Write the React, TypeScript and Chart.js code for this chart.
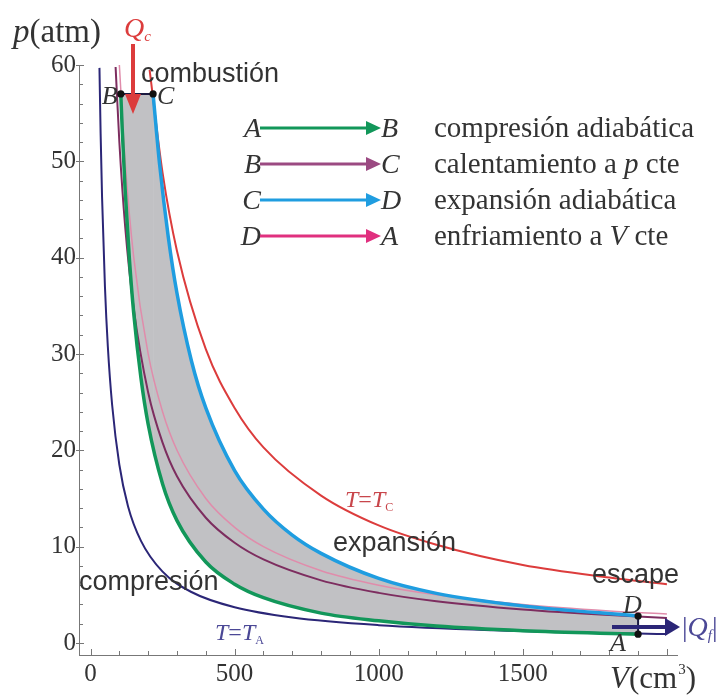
import React, { useEffect, useRef } from 'react';
import { Chart, registerables } from 'chart.js';

Chart.register(...registerables);

// ---- data (V in cm³, p in atm) ----
// adiabatic compression A -> B
const abV = [105, 110, 120, 135, 150, 175, 200, 250, 300, 400, 500, 600, 800, 1000, 1200, 1500, 1900];
const abP = [57.0, 53.3, 47.1, 39.8, 34.2, 27.5, 22.7, 16.5, 12.7, 8.4, 6.1, 4.7, 3.1, 2.3, 1.75, 1.27, 0.91];
// heating at constant p B -> C
const bcV = [105, 217];
const bcP = [57, 57];
// adiabatic expansion C -> D
const cdV = [217, 240, 270, 300, 350, 400, 500, 600, 700, 800, 1000, 1200, 1500, 1900];
const cdP = [57.0, 49.6, 42.1, 36.3, 29.3, 24.4, 17.9, 13.9, 11.2, 9.3, 6.7, 5.15, 3.85, 2.8];
// cooling at constant V D -> A
const daV = [1900, 1900];
const daP = [2.8, 0.91];
// isotherm T = T_C
const tcV = [205, 250, 300, 400, 500, 600, 800, 1000, 1200, 1500, 1800, 2000];
const tcP = [59.5, 48.8, 40.7, 30.5, 24.4, 20.3, 15.3, 12.2, 10.2, 8.1, 6.8, 6.1];
// isotherm T = T_A
const taV = [31, 35, 40, 50, 60, 75, 100, 130, 175, 250, 350, 500, 700, 1000, 1400, 1900, 2000];
const taP = [59.7, 52.9, 46.3, 37.0, 30.8, 24.7, 18.5, 14.2, 10.6, 7.4, 5.29, 3.7, 2.64, 1.85, 1.32, 0.97, 0.93];
// isotherm through D (purple)
const tdV = [87, 100, 120, 150, 200, 250, 300, 400, 500, 600, 800, 1000, 1200, 1500, 1800, 2000];
const tdP = [59.8, 52, 43.3, 34.7, 26, 20.8, 17.3, 13, 10.4, 8.67, 6.5, 5.2, 4.33, 3.47, 2.89, 2.6];
// isotherm through B (light pink)
const tbV = [100, 120, 150, 200, 250, 300, 400, 500, 600, 800, 1000, 1200, 1500, 1800, 2000];
const tbP = [60, 50, 40, 30, 24, 20, 15, 12, 10, 7.5, 6, 5, 4, 3.33, 3];
// state points
const stateNames = ['B', 'C', 'D', 'A'];
const stateV = [105, 217, 1900, 1900];
const stateP = [57, 57, 2.8, 0.91];
// ticks
const xTickLabels = [0, 500, 1000, 1500];
const yTickLabels = [0, 10, 20, 30, 40, 50, 60];
// process legend
const legendFrom = ['A', 'B', 'C', 'D'];
const legendTo = ['B', 'C', 'D', 'A'];
const legendText: string[][] = [
  ['compresión adiabática'],
  ['calentamiento a ', 'p', ' cte'],
  ['expansión adiabática'],
  ['enfriamiento a ', 'V', ' cte'],
];

const SERIF = "'Liberation Serif', 'Times New Roman', serif";
const SANS = "'Liberation Sans', Arial, sans-serif";
const GREEN = '#12975a';
const BLUE = '#1f9de0';
const RED = '#dc3c3c';
const NAVY = '#2b2677';
const PURPLE = '#7d2d5f';
const PINK = '#e08cab';
const FILL = 'rgb(193,193,196)';
const TXT = '#333333';

const pts = (vs: number[], ps: number[]) => vs.map((v, i) => ({ x: v, y: ps[i] }));

type Run = { t: string; font: string; color?: string; dy?: number };
function drawRuns(ctx: CanvasRenderingContext2D, x: number, y: number, runs: Run[]) {
  let cx = x;
  for (const r of runs) {
    ctx.font = r.font;
    if (r.color) ctx.fillStyle = r.color;
    ctx.fillText(r.t, cx, y + (r.dy || 0));
    cx += ctx.measureText(r.t).width;
  }
  return cx;
}

function arrow(ctx: CanvasRenderingContext2D, x1: number, y1: number, x2: number, y2: number, color: string, lw: number, headLen: number, headHalf: number) {
  const a = Math.atan2(y2 - y1, x2 - x1);
  const bx = x2 - headLen * Math.cos(a);
  const by = y2 - headLen * Math.sin(a);
  ctx.strokeStyle = color;
  ctx.lineWidth = lw;
  ctx.lineCap = 'butt';
  ctx.beginPath();
  ctx.moveTo(x1, y1);
  ctx.lineTo(bx + Math.cos(a), by + Math.sin(a));
  ctx.stroke();
  ctx.fillStyle = color;
  ctx.beginPath();
  ctx.moveTo(x2, y2);
  ctx.lineTo(bx - headHalf * Math.sin(a), by + headHalf * Math.cos(a));
  ctx.lineTo(bx + headHalf * Math.sin(a), by - headHalf * Math.cos(a));
  ctx.closePath();
  ctx.fill();
}

const annotations = {
  id: 'annotations',
  afterDraw(chart: any) {
    const ctx: CanvasRenderingContext2D = chart.ctx;
    const xs = chart.scales.x;
    const ys = chart.scales.y;
    const X = (v: number) => xs.getPixelForValue(v);
    const Y = (p: number) => ys.getPixelForValue(p);
    const { left, bottom } = chart.chartArea;
    ctx.save();
    ctx.textAlign = 'left';
    ctx.textBaseline = 'alphabetic';

    // tick marks (inside)
    ctx.strokeStyle = '#777';
    ctx.lineWidth = 1;
    ys.ticks.forEach((t: any) => {
      const y = Math.round(Y(t.value)) + 0.5;
      const major = t.value % 10 === 0;
      ctx.beginPath();
      ctx.moveTo(major ? left - 3 : left, y);
      ctx.lineTo(left + (major ? 5 : 4), y);
      ctx.stroke();
    });
    xs.ticks.forEach((t: any) => {
      const x = Math.round(X(t.value)) + 0.5;
      const major = t.value % 500 === 0;
      ctx.beginPath();
      ctx.moveTo(x, bottom);
      ctx.lineTo(x, bottom - (major ? 6 : 4));
      ctx.stroke();
    });

    // axis titles
    ctx.fillStyle = TXT;
    drawRuns(ctx, 13, 42, [
      { t: 'p', font: `italic 33px ${SERIF}` },
      { t: '(atm)', font: `33px ${SERIF}` },
    ]);
    const vx = drawRuns(ctx, 610, 688, [
      { t: 'V', font: `italic 31px ${SERIF}` },
      { t: '(cm', font: `31px ${SERIF}` },
    ]);
    const vx2 = drawRuns(ctx, vx + 1, 688, [{ t: '3', font: `15px ${SERIF}`, dy: -14 }]);
    drawRuns(ctx, vx2, 688, [{ t: ')', font: `31px ${SERIF}` }]);

    // Q_c arrow
    drawRuns(ctx, 124, 37, [
      { t: 'Q', font: `italic 28px ${SERIF}`, color: RED },
      { t: 'c', font: `italic 15px ${SERIF}`, dy: 4 },
    ]);
    arrow(ctx, 133, 44, 133, 114, RED, 4, 20, 8);

    // |Q_f| arrow
    arrow(ctx, 612, 627, 680, 627, NAVY, 4, 15, 9);
    ctx.fillStyle = '#4b4896';
    drawRuns(ctx, 682, 636, [
      { t: '|', font: `28px ${SERIF}` },
      { t: 'Q', font: `italic 28px ${SERIF}` },
      { t: 'f', font: `italic 15px ${SERIF}`, dy: 4 },
      { t: '|', font: `28px ${SERIF}` },
    ]);

    // sans labels
    ctx.fillStyle = TXT;
    ctx.font = `27px ${SANS}`;
    ctx.fillText('combustión', 141, 82);
    ctx.fillText('expansión', 333, 551);
    ctx.fillText('compresión', 79, 590);
    ctx.fillText('escape', 592, 583);

    // isotherm labels
    drawRuns(ctx, 345, 507, [
      { t: 'T', font: `italic 24px ${SERIF}`, color: '#c8464b' },
      { t: '=', font: `24px ${SERIF}` },
      { t: 'T', font: `italic 24px ${SERIF}` },
      { t: 'C', font: `12px ${SERIF}`, dy: 4 },
    ]);
    drawRuns(ctx, 215, 640, [
      { t: 'T', font: `italic 24px ${SERIF}`, color: '#4b4896' },
      { t: '=', font: `24px ${SERIF}` },
      { t: 'T', font: `italic 24px ${SERIF}` },
      { t: 'A', font: `12px ${SERIF}`, dy: 4 },
    ]);

    // state labels
    ctx.fillStyle = TXT;
    ctx.font = `italic 26px ${SERIF}`;
    const off: Record<string, [number, number]> = { B: [-19, 10], C: [4, 10], D: [-15, -3], A: [-28, 17] };
    stateNames.forEach((n, i) => {
      const o = off[n];
      ctx.fillText(n, X(stateV[i]) + o[0], Y(stateP[i]) + o[1]);
    });

    // process legend
    const colors = [GREEN, '#9b4a82', BLUE, '#e0307f'];
    const rowY = [128, 164, 200, 236];
    legendFrom.forEach((f, i) => {
      const y = rowY[i];
      ctx.fillStyle = TXT;
      ctx.font = `italic 28px ${SERIF}`;
      ctx.textAlign = 'right';
      ctx.fillText(f, 261, y + 9);
      ctx.textAlign = 'left';
      arrow(ctx, 260, y, 381, y, colors[i], 3, 15, 7);
      ctx.fillStyle = TXT;
      ctx.font = `italic 28px ${SERIF}`;
      ctx.fillText(legendTo[i], 381, y + 9);
      const parts = legendText[i];
      drawRuns(ctx, 434, y + 9, parts.map((t, k) => ({ t, font: (k === 1 ? 'italic ' : '') + `29px ${SERIF}` })));
    });
    ctx.restore();
  },
};

export default function App() {
  const ref = useRef<HTMLCanvasElement | null>(null);
  useEffect(() => {
    if (!ref.current) return;
    const line = (data: any, color: string, width: number, order: number, extra: any = {}) => ({
      data,
      borderColor: color,
      borderWidth: width,
      pointRadius: 0,
      fill: false,
      cubicInterpolationMode: 'monotone',
      order,
      ...extra,
    });
    const chart = new Chart(ref.current, {
      type: 'line',
      data: {
        datasets: [
          {
            data: pts(stateV, stateP),
            showLine: false,
            pointRadius: 3.6,
            pointBackgroundColor: '#111',
            pointBorderWidth: 0,
            order: 0,
          } as any,
          line(pts(abV, abP), GREEN, 3.5, 4),
          line(pts(cdV, cdP), BLUE, 3.5, 3, { fill: 1, backgroundColor: FILL }),
          line(pts(bcV, bcP), '#1a1a40', 2, 2, { fill: 1, backgroundColor: FILL, cubicInterpolationMode: 'default', tension: 0 }),
          line(pts(daV, daP), '#1a1a40', 2, 1, { cubicInterpolationMode: 'default', tension: 0 }),
          line(pts(tcV, tcP), RED, 2, 6),
          line(pts(taV, taP), NAVY, 2, 5),
          line(pts(tdV, tdP), PURPLE, 2, 7),
          line(pts(tbV, tbP), PINK, 1.5, 8),
        ],
      },
      options: {
        responsive: false,
        animation: false,
        layout: { padding: { left: 0, top: 65, right: 51, bottom: 0 } },
        plugins: {
          legend: { display: false },
          tooltip: { enabled: false },
          filler: { drawTime: 'beforeDatasetsDraw', propagate: false },
        } as any,
        scales: {
          x: {
            type: 'linear',
            min: -40,
            max: 2035,
            grid: { display: false, drawTicks: false },
            border: { display: true, color: '#777', width: 1 },
            ticks: {
              stepSize: 100,
              includeBounds: false,
              autoSkip: false,
              maxRotation: 0,
              padding: 4,
              color: TXT,
              font: { family: SERIF, size: 25 },
              callback: (v: any) => (xTickLabels.includes(Number(v)) ? String(v) : ''),
            },
            afterFit: (s: any) => {
              s.height = 45;
            },
          },
          y: {
            type: 'linear',
            min: -1.25,
            max: 60,
            grid: { display: false, drawTicks: false },
            border: { display: true, color: '#777', width: 1 },
            ticks: {
              stepSize: 2,
              includeBounds: false,
              autoSkip: false,
              padding: 3,
              color: TXT,
              font: { family: SERIF, size: 25 },
              callback: (v: any) => (yTickLabels.includes(Number(v)) ? String(v) : ''),
            },
            afterFit: (s: any) => {
              s.width = 79;
            },
          },
        },
      } as any,
      plugins: [annotations],
    });
    return () => chart.destroy();
  }, []);
  return (
    <div style={{ position: 'absolute', left: 0, top: 0, width: 728, height: 700, background: '#fff' }}>
      <canvas ref={ref} width={728} height={700} style={{ display: 'block' }} />
    </div>
  );
}
